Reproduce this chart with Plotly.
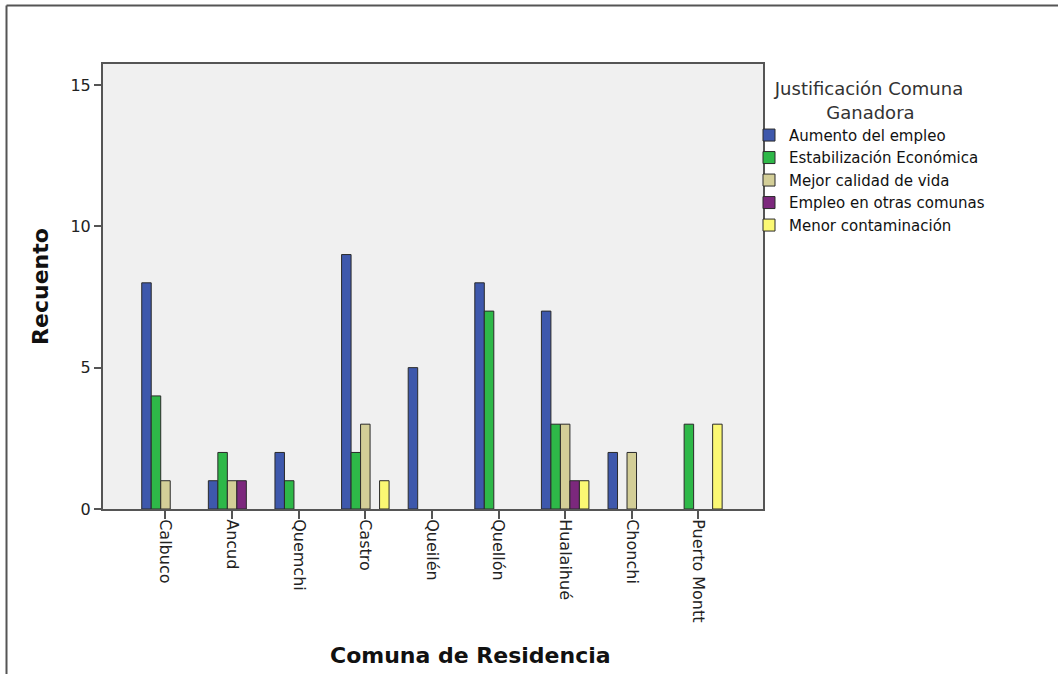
import plotly.graph_objects as go

comunas = ["Calbuco", "Ancud", "Quemchi", "Castro", "Queilén", "Quellón",
           "Hualaihué", "Chonchi", "Puerto Montt"]

series_names = ["Aumento del empleo", "Estabilización Económica",
                "Mejor calidad de vida", "Empleo en otras comunas",
                "Menor contaminación"]

aumento_empleo = [8, 1, 2, 9, 5, 8, 7, 2, 0]
estabilizacion = [4, 2, 1, 2, 0, 7, 3, 0, 3]
mejor_calidad = [1, 1, 0, 3, 0, 0, 3, 2, 0]
empleo_otras = [0, 1, 0, 0, 0, 0, 1, 0, 0]
menor_contaminacion = [0, 0, 0, 1, 0, 0, 1, 0, 3]

series_values = [aumento_empleo, estabilizacion, mejor_calidad,
                 empleo_otras, menor_contaminacion]
colors = ["#3E58AC", "#2EB848", "#D3CE97", "#7C287D", "#FBF873"]

y_ticks = [0, 5, 10, 15]

FONT = "DejaVu Sans"

fig = go.Figure()
for name, vals, col in zip(series_names, series_values, colors):
    fig.add_trace(go.Bar(
        name=name, x=comunas,
        # zero counts are drawn as empty slots (no outline at the baseline)
        y=[v if v != 0 else None for v in vals],
        marker=dict(color=col, line=dict(color="#2a2a2a", width=1)),
    ))

W, H = 1058, 674
ml, mr, mt, mb = 103, 295, 64, 165
pw, ph = W - ml - mr, H - mt - mb

def px_x(x):
    return (x - ml) / pw

def px_y(y):
    return 1 - (y - mt) / ph

nb = "\u00a0"
legend_title = "Justificación Comuna<br>" + nb * 9 + "Ganadora"

fig.update_layout(
    width=W, height=H,
    margin=dict(l=ml, r=mr, t=mt, b=mb, autoexpand=False),
    paper_bgcolor="white",
    plot_bgcolor="#F0F0F0",
    barmode="group",
    bargap=0.287,
    bargroupgap=0,
    font=dict(family=FONT, color="#222222", size=15),
    legend=dict(
        title=dict(text=legend_title, side="top center",
                   font=dict(family=FONT, size=18, color="#333333")),
        font=dict(family=FONT, size=15, color="#111111"),
        x=px_x(749), xanchor="left",
        y=px_y(72), yanchor="top",
        bgcolor="rgba(0,0,0,0)",
        tracegroupgap=0,
    ),
    xaxis=dict(
        type="category",
        range=[-0.938, 8.97],
        showline=True, linecolor="#555555", linewidth=2, mirror=True,
        ticks="outside", ticklen=8, tickcolor="#555555", tickwidth=1.5,
        tickangle=90,
        ticklabelstandoff=-3,
        tickfont=dict(family=FONT, size=16, color="#222222"),
        showgrid=False,
        automargin=False,
    ),
    yaxis=dict(
        range=[0, 15.74],
        tickvals=y_ticks,
        showline=True, linecolor="#555555", linewidth=2, mirror=True,
        ticks="outside", ticklen=7, tickcolor="#555555", tickwidth=1.5,
        tickfont=dict(family=FONT, size=16, color="#222222"),
        showgrid=False, zeroline=False,
        title=dict(text="<b>Recuento</b>",
                   font=dict(family=FONT, size=22, color="#111111"),
                   standoff=16),
        automargin=False,
    ),
    annotations=[
        dict(text="<b>Comuna de Residencia</b>", xref="paper", yref="paper",
             x=px_x(470), y=px_y(655), xanchor="center", yanchor="middle",
             showarrow=False,
             font=dict(family=FONT, size=22, color="#111111")),
    ],
    shapes=[
        dict(type="line", xref="paper", yref="paper",
             x0=px_x(6.5), x1=px_x(1058), y0=px_y(5.5), y1=px_y(5.5),
             line=dict(color="#555555", width=2)),
        dict(type="line", xref="paper", yref="paper",
             x0=px_x(6.5), x1=px_x(6.5), y0=px_y(5.5), y1=px_y(674),
             line=dict(color="#555555", width=2)),
    ],
)

fig.write_html("out.html",
               config={"displayModeBar": False},
               post_script="document.body.style.margin='0';"
                           "document.body.style.overflow='hidden';")
